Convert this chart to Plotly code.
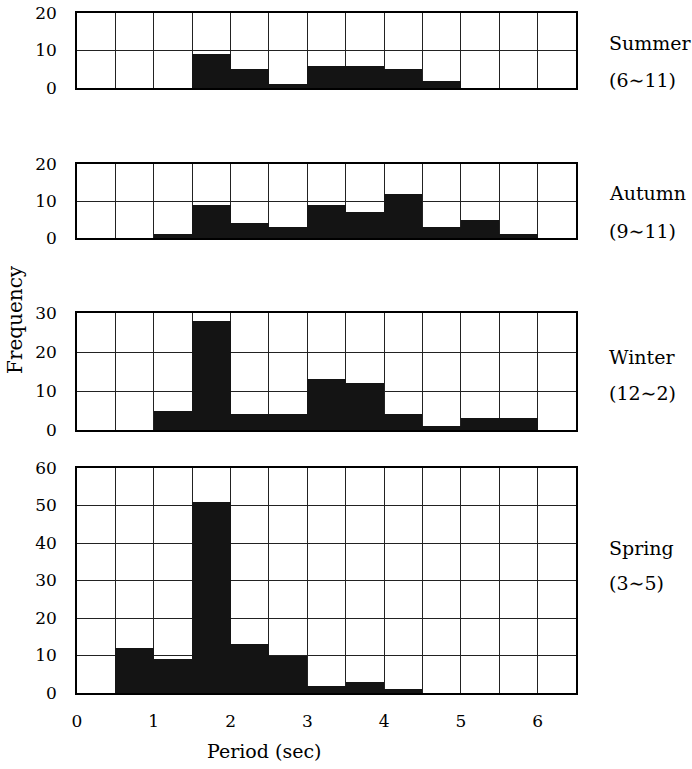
import plotly.graph_objects as go

# ---- data ----
bin_left = [0.0, 0.5, 1.0, 1.5, 2.0, 2.5, 3.0, 3.5, 4.0, 4.5, 5.0, 5.5, 6.0]
summer = [0, 0, 0, 9, 5, 1, 6, 6, 5, 2, 0, 0, 0]
autumn = [0, 0, 1, 9, 4, 3, 9, 7, 12, 3, 5, 1, 0]
winter = [0, 0, 5, 28, 4, 4, 13, 12, 4, 1, 3, 3, 0]
spring = [0, 12, 9, 51, 13, 10, 2, 3, 1, 0, 0, 0, 0]
season_names = ["Summer", "Autumn", "Winter", "Spring"]
season_months = ["(6∼11)", "(9∼11)", "(12∼2)", "(3∼5)"]
y_max = [20, 20, 30, 60]
x_ticks = [0, 1, 2, 3, 4, 5, 6]

W, H = 692, 769
FONT = "DejaVu Serif"

def py(px):
    return 1 - px / H

x_dom = [77 / W, 576 / W]
panel_px = [(13, 88), (164, 238), (313, 430), (468, 693)]
label_px = [(43, 80), (193, 231), (357, 393), (548, 583)]
series = [summer, autumn, winter, spring]

fig = go.Figure()
centers = [b + 0.25 for b in bin_left]
for i, vals in enumerate(series):
    n = "" if i == 0 else str(i + 1)
    fig.add_trace(go.Bar(
        x=centers, y=vals, width=0.5,
        marker=dict(color="#141414", line=dict(width=0)),
        xaxis="x" + n, yaxis="y" + n, showlegend=False,
    ))
    top, bot = panel_px[i]
    fig.layout["xaxis" + n] = dict(
        domain=x_dom, range=[0, 6.5], anchor="y" + n, automargin=False,
        tickmode="array", tickvals=x_ticks,
        showticklabels=(i == 3),
        showgrid=True, gridcolor="#222", gridwidth=1.2,
        minor=dict(dtick=0.5, showgrid=True, gridcolor="#222", gridwidth=1.2),
        showline=True, linecolor="black", linewidth=1.5, mirror=True,
        zeroline=False, ticks="", ticklabelstandoff=12,
        tickfont=dict(family=FONT, size=17, color="black"),
    )
    fig.layout["yaxis" + n] = dict(
        domain=[py(bot), py(top)], range=[0, y_max[i]], anchor="x" + n,
        automargin=False,
        dtick=10, showgrid=True, gridcolor="#222", gridwidth=1.2,
        showline=True, linecolor="black", linewidth=1.5, mirror=True,
        zeroline=False, ticks="", ticklabelstandoff=15,
        tickfont=dict(family=FONT, size=17, color="black"),
    )
    ya, yb = label_px[i]
    fig.add_annotation(x=607 / W, y=py(ya), xref="paper", yref="paper",
                       text=season_names[i], showarrow=False,
                       xanchor="left", yanchor="middle",
                       font=dict(family=FONT, size=19, color="black"))
    fig.add_annotation(x=607 / W, y=py(yb), xref="paper", yref="paper",
                       text=season_months[i], showarrow=False,
                       xanchor="left", yanchor="middle",
                       font=dict(family=FONT, size=19, color="black"))

fig.add_annotation(x=15 / W, y=py(320), xref="paper", yref="paper",
                   text="Frequency", textangle=-90, showarrow=False,
                   xanchor="center", yanchor="middle",
                   font=dict(family=FONT, size=20, color="black"))
fig.add_annotation(x=264 / W, y=py(751), xref="paper", yref="paper",
                   text="Period (sec)", showarrow=False,
                   xanchor="center", yanchor="middle",
                   font=dict(family=FONT, size=19, color="black"))

fig.update_layout(
    width=W, height=H, margin=dict(l=0, r=0, t=0, b=0),
    paper_bgcolor="white", plot_bgcolor="white", bargap=0,
)
fig.write_html("out.html")
